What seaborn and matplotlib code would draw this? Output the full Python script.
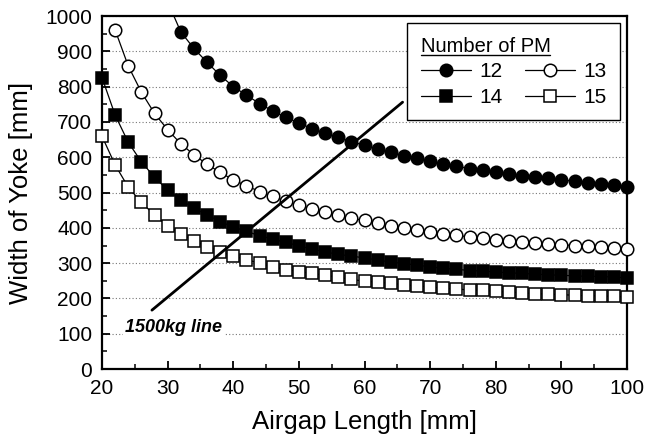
import numpy as np
import pandas as pd
import matplotlib
matplotlib.use("Agg")
import matplotlib.pyplot as plt
from matplotlib.ticker import MultipleLocator
from matplotlib.lines import Line2D
from matplotlib.patches import Rectangle
import seaborn as sns

# ==========================================
# Data
# ==========================================
airgap = list(range(20, 101, 2))  # 20, 22, ..., 100 mm

# 12 PM: curve leaves the top of the plot just after 30 mm
pm12_x = list(range(30, 101, 2))
pm12_y = [1040, 955, 908, 869, 832, 800, 776, 752, 731, 713, 697, 681, 668, 656, 644,
          634, 623, 614, 604, 597, 588, 581, 575, 568, 564, 558, 553, 548, 544, 540,
          536, 532, 528, 525, 521, 517]

pm13_x = list(range(22, 101, 2))
pm13_y = [960, 858, 784, 724, 678, 638, 607, 580, 557, 536, 519, 503, 489, 476, 464,
          454, 445, 436, 427, 421, 413, 406, 399, 394, 388, 383, 379, 374, 370, 367,
          364, 360, 357, 355, 352, 350, 348, 346, 344, 341]

pm14_x = airgap
pm14_y = [825, 719, 642, 587, 543, 507, 479, 456, 437, 418, 402, 390, 378, 368, 359,
          349, 340, 332, 325, 320, 315, 309, 303, 299, 294, 290, 285, 283, 279, 278,
          275, 273, 271, 269, 267, 266, 264, 263, 262, 261, 258]

pm15_x = airgap
pm15_y = [659, 578, 515, 472, 436, 405, 383, 364, 347, 333, 320, 310, 300, 290, 282,
          276, 271, 266, 260, 254, 249, 246, 243, 239, 236, 233, 229, 227, 224, 223,
          220, 218, 216, 214, 212, 211, 209, 208, 207, 206, 204]

# 1500 kg constraint line (end points)
line_x = [27.6, 65.8]
line_y = [167, 756]
line_label = "1500kg line"

series = ["12", "13", "14", "15"]

# ==========================================
# Plot
# ==========================================
sns.set_theme(style="white")
plt.rcParams['font.family'] = ['Liberation Sans', 'DejaVu Sans']
plt.rcParams['text.color'] = 'black'
plt.rcParams['axes.labelcolor'] = 'black'
plt.rcParams['xtick.color'] = 'black'
plt.rcParams['ytick.color'] = 'black'

fig = plt.figure(figsize=(6.46, 4.41), dpi=100)
ax = fig.add_axes([0.158, 0.163, 0.8126, 0.8007])

common = dict(color="black", linewidth=0.9, markersize=9,
              markeredgecolor="black", markeredgewidth=1.1,
              estimator=None, sort=False, zorder=3, legend=False)

sns.lineplot(x=pm12_x, y=pm12_y, marker="o", markerfacecolor="black", ax=ax, **common)
sns.lineplot(x=pm13_x, y=pm13_y, marker="o", markerfacecolor="white", ax=ax, **common)
sns.lineplot(x=pm14_x, y=pm14_y, marker="s", markerfacecolor="black", ax=ax,
             **{**common, "markersize": 8.5})
sns.lineplot(x=pm15_x, y=pm15_y, marker="s", markerfacecolor="white", ax=ax,
             **{**common, "markersize": 8.5})

# markers at the frame edges are drawn whole; only the top edge clips
for ln in ax.get_lines()[:4]:
    clip = Rectangle((-0.05, -0.05), 1.1, 1.05, transform=ax.transAxes)
    ln.set_clip_path(clip)

# constraint line
ax.plot(line_x, line_y, color="black", linewidth=2.0, zorder=4)
ax.text(23.5, 118, line_label, fontsize=13, fontweight="bold", style="italic",
        ha="left", va="center", zorder=5, color="black",
        bbox=dict(facecolor="white", edgecolor="none", pad=1.5))

# axes styling
ax.set_xlim(20, 100)
ax.set_ylim(0, 1000)
ax.xaxis.set_major_locator(MultipleLocator(10))
ax.xaxis.set_minor_locator(MultipleLocator(5))
ax.yaxis.set_major_locator(MultipleLocator(100))
ax.yaxis.set_minor_locator(MultipleLocator(50))
ax.tick_params(which="major", direction="in", length=6, width=1.3,
               labelsize=15, pad=7, colors="black")
ax.tick_params(which="minor", direction="in", length=3.5, width=1.1)
ax.tick_params(bottom=True, left=True, which="both")

ax.grid(axis="y", which="major", linestyle=(0, (1, 2)), color="#777777",
        linewidth=0.8, zorder=0)
for s in ax.spines.values():
    s.set_color("black")
    s.set_linewidth(1.6)
    s.set_visible(True)

ax.set_xlabel("Airgap Length [mm]", fontsize=18.5, labelpad=9)
ax.set_ylabel("Width of Yoke [mm]", fontsize=18.5, labelpad=9)

# legend: 12 / 14 in the first column, 13 / 15 in the second
lines = ax.get_lines()[:4]
handles = [lines[0], lines[2], lines[1], lines[3]]
labels = [series[0], series[2], series[1], series[3]]
leg = ax.legend(handles, labels, title="Number of PM", ncol=2, loc="upper right",
                bbox_to_anchor=(0.987, 0.98), borderaxespad=0, alignment="left",
                fontsize=15, title_fontsize=14.5,
                frameon=True, fancybox=False, framealpha=1, edgecolor="black",
                handlelength=2.4, handletextpad=0.4, columnspacing=1.1,
                labelspacing=0.32, borderpad=0.65)
leg.get_frame().set_linewidth(1.0)
leg.set_zorder(6)
for t in leg.get_texts():
    t.set_color("black")

# underline the legend title
fig.canvas.draw()
tb = leg.get_title().get_window_extent()
inv = fig.transFigure.inverted()
(x0, y0), (x1, _) = inv.transform([(tb.x0, tb.y0 + 1), (tb.x1, tb.y0 + 1)])
fig.add_artist(Line2D([x0, x1], [y0, y0], color="black", linewidth=1.0, zorder=7))

fig.savefig("out.png", dpi=100)
